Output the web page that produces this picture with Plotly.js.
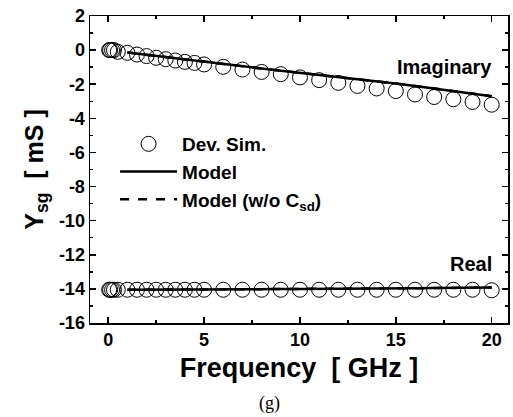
<!DOCTYPE html>
<html><head><meta charset="utf-8">
<script src="https://cdn.plot.ly/plotly-3.0.1.min.js"></script>
<style>body{margin:0;padding:0;background:#fff}#chart{width:513px;height:417px}</style>
</head><body><div id="chart"></div>
<script>
// Device simulation frequencies (GHz)
const simFreq = [0.05,0.1,0.2,0.3,0.5,1,1.5,2,2.5,3,3.5,4,4.5,5,6,7,8,9,10,11,12,13,14,15,16,17,18,19,20];
const simImag = [0,0,0,0,-0.1,-0.16,-0.26,-0.35,-0.45,-0.53,-0.61,-0.69,-0.75,-0.84,-0.98,-1.14,-1.28,-1.41,-1.6,-1.76,-1.92,-2.1,-2.25,-2.4,-2.6,-2.75,-2.88,-3.04,-3.2];
const simReal = [-14.05,-14.05,-14.05,-14.05,-14.05,-14.05,-14.05,-14.05,-14.05,-14.05,-14.05,-14.05,-14.05,-14.05,-14.05,-14.05,-14.05,-14.05,-14.05,-14.05,-14.05,-14.05,-14.05,-14.05,-14.05,-14.05,-14.05,-14.05,-14.08];
// Model frequencies
const modFreq = [1,2,3,4,5,6,7,8,9,10,11,12,13,14,15,16,17,18,19,20];
const modImag = [-0.14,-0.28,-0.42,-0.56,-0.7,-0.83,-0.96,-1.08,-1.21,-1.33,-1.46,-1.58,-1.71,-1.83,-1.96,-2.1,-2.24,-2.39,-2.54,-2.7];
const modReal = [-14.05,-14.05,-14.04,-14.04,-14.03,-14.03,-14.02,-14.02,-14.01,-14.0,-14.0,-13.99,-13.98,-13.98,-13.97,-13.96,-13.95,-13.94,-13.93,-13.92];
// Model without Csd (coincides with model)
const noCsdImag = modImag.slice();
const noCsdReal = modReal.slice();
const xTickVals = [0,5,10,15,20];
const xTickText = ['0','5','10','15','20'];
const yTickVals = [2,0,-2,-4,-6,-8,-10,-12,-14,-16];
const yTickText = ['2','0','-2','-4','-6','-8','-10','-12','-14','-16'];

const F = 'Arial, "Liberation Sans", sans-serif';
const circ = {symbol:'circle-open', size:15, color:'#000', line:{width:1, color:'#000'}};
const traces = [
  {x:simFreq, y:simImag, mode:'markers', marker:circ, name:'Dev. Sim.', showlegend:true},
  {x:simFreq, y:simReal, mode:'markers', marker:circ, name:'Dev. Sim.', showlegend:false},
  {x:modFreq, y:modImag, mode:'lines', line:{color:'#000', width:2.5}, name:'Model', showlegend:true},
  {x:modFreq, y:modReal, mode:'lines', line:{color:'#000', width:2.5}, name:'Model', showlegend:false},
  {x:modFreq, y:noCsdImag, mode:'lines', line:{color:'#000', width:2.5, dash:'dash'}, name:'Model (w/o C<sub>sd</sub>)', showlegend:true},
  {x:modFreq, y:noCsdReal, mode:'lines', line:{color:'#000', width:2.5, dash:'dash'}, name:'Model (w/o C<sub>sd</sub>)', showlegend:false}
];
const axisCommon = {showline:true, linecolor:'#000', linewidth:1.5, mirror:'ticks', ticks:'inside', ticklen:6, tickwidth:1.5, tickcolor:'#000', showgrid:false, zeroline:false, tickfont:{family:F, size:18, color:'#000', weight:'bold'}};
const layout = {
  width:513, height:417,
  margin:{l:90, r:5, t:16, b:94},
  paper_bgcolor:'#fff', plot_bgcolor:'#fff',
  font:{family:F, color:'#000'},
  showlegend:true,
  legend:{x:0.06, y:0.645, xanchor:'left', yanchor:'top', bgcolor:'rgba(0,0,0,0)', borderwidth:0, itemwidth:57,
          traceorder:'normal', font:{family:F, size:19, color:'#000', weight:'bold'}},
  xaxis:Object.assign({}, axisCommon, {range:[-0.95,20.85], tickmode:'array', tickvals:xTickVals, ticktext:xTickText,
        minor:{dtick:2.5, tick0:0, ticks:'inside', ticklen:3, tickwidth:1.5, tickcolor:'#000', showgrid:false},
        title:{text:'Frequency  [ GHz ]', font:{family:F, size:27, color:'#000', weight:'bold'}, standoff:9}}),
  yaxis:Object.assign({}, axisCommon, {range:[-16,2], tickmode:'array', tickvals:yTickVals, ticktext:yTickText,
        minor:{dtick:1, tick0:0, ticks:'inside', ticklen:3, tickwidth:1.5, tickcolor:'#000', showgrid:false},
        title:{text:'Y<sub>sg</sub>  [ mS ]', font:{family:F, size:25, color:'#000', weight:'bold'}, standoff:8}}),
  annotations:[
    {xref:'x', yref:'y', x:20.1, y:-0.99, text:'Imaginary', showarrow:false, xanchor:'right', font:{family:F, size:20, color:'#000', weight:'bold'}},
    {xref:'x', yref:'y', x:20.1, y:-12.55, text:'Real', showarrow:false, xanchor:'right', font:{family:F, size:20, color:'#000', weight:'bold'}},
    {xref:'paper', yref:'paper', x:0.43, y:-0.262, yanchor:'middle', text:'(g)', showarrow:false, font:{family:'"Liberation Serif", "Times New Roman", serif', size:18, color:'#000'}}
  ]
};
Plotly.newPlot('chart', traces, layout, {staticPlot:true, displayModeBar:false});
</script></body></html>
